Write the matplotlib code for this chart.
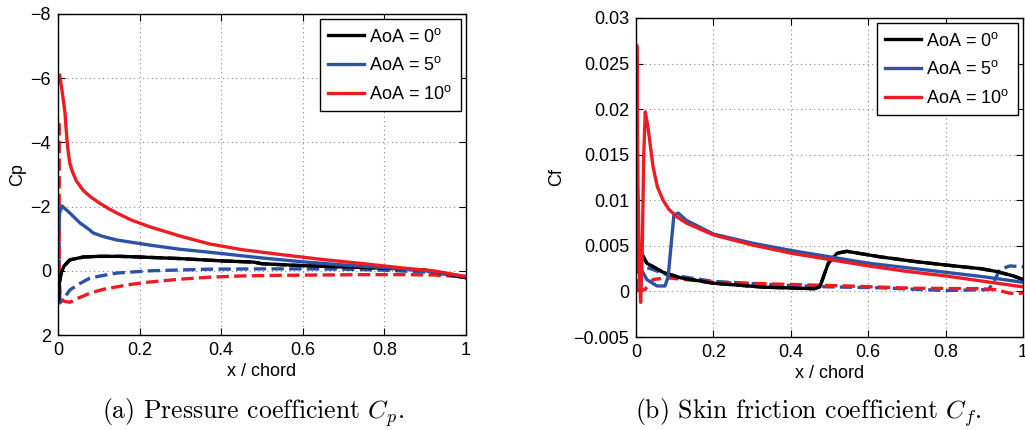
import matplotlib
matplotlib.use("Agg")
import matplotlib.pyplot as plt
from matplotlib.ticker import FuncFormatter

plt.rcParams['font.family'] = ['Liberation Sans', 'DejaVu Sans']
plt.rcParams['mathtext.fontset'] = 'custom'
plt.rcParams['mathtext.rm'] = 'Liberation Sans'
plt.rcParams['mathtext.it'] = 'Liberation Sans:italic'

# ---- pressure coefficient ----
cp10_up_x = [0.0, 0.004, 0.01, 0.017, 0.02, 0.024, 0.029, 0.035, 0.045, 0.062, 0.08, 0.103,
             0.125, 0.144, 0.18, 0.225, 0.3, 0.37, 0.45, 0.55, 0.65, 0.75, 0.85, 0.92, 1.0]
cp10_up = [-5.9, -6.1, -5.6, -4.95, -4.4, -3.8, -3.35, -3.1, -2.8, -2.5, -2.3, -2.1,
           -1.93, -1.8, -1.58, -1.37, -1.08, -0.84, -0.66, -0.5, -0.35, -0.22, -0.08, 0.0, 0.18]
cp10_lo_x = [0.003, 0.003, 0.006, 0.015, 0.029, 0.05, 0.078, 0.11, 0.144, 0.18, 0.225, 0.3,
             0.37, 0.45, 0.55, 0.65, 0.75, 0.85, 0.92, 1.0]
cp10_lo = [-4.6, 0.3, 0.85, 0.95, 0.98, 0.85, 0.7, 0.58, 0.5, 0.42, 0.35, 0.26,
           0.2, 0.16, 0.14, 0.13, 0.12, 0.12, 0.13, 0.19]

cp5_up_x = [0.0, 0.004, 0.0098, 0.029, 0.054, 0.078, 0.086, 0.11, 0.144, 0.225, 0.3, 0.37,
            0.5, 0.6, 0.7, 0.8, 0.9, 1.0]
cp5_up = [-0.8, -1.8, -2.02, -1.8, -1.49, -1.27, -1.18, -1.07, -0.96, -0.8, -0.67, -0.58,
          -0.4, -0.28, -0.18, -0.1, 0.0, 0.18]
cp5_lo_x = [0.003, 0.003, 0.005, 0.015, 0.029, 0.05, 0.078, 0.1, 0.144, 0.225, 0.37, 0.5,
            0.6, 0.7, 0.8, 0.9, 1.0]
cp5_lo = [-2.0, 0.4, 1.0, 0.85, 0.6, 0.42, 0.23, 0.17, 0.07, 0.0, -0.05, -0.06,
          -0.06, -0.05, -0.02, 0.04, 0.2]

cp0_x = [0.002, 0.003, 0.008, 0.015, 0.029, 0.062, 0.1, 0.15, 0.2, 0.3, 0.4, 0.48, 0.5,
         0.6, 0.7, 0.8, 0.9, 1.0]
cp0 = [0.9, 0.4, 0.05, -0.15, -0.34, -0.43, -0.45, -0.45, -0.43, -0.38, -0.31, -0.27, -0.22,
       -0.16, -0.12, -0.08, -0.02, 0.22]

# ---- skin friction coefficient ----
cf10_up_x = [0.0, 0.002, 0.005, 0.009, 0.012, 0.016, 0.02, 0.024, 0.031, 0.044, 0.055, 0.07,
             0.085, 0.105, 0.13, 0.173, 0.2, 0.3, 0.4, 0.5, 0.6, 0.7, 0.8, 0.9, 1.0]
cf10_up = [0.005, 0.027, 0.012, 0.002, -0.0012, 0.004, 0.015, 0.0197, 0.018, 0.0137, 0.0115, 0.0100,
           0.0090, 0.0082, 0.0075, 0.0067, 0.0062, 0.0051, 0.0042, 0.0035, 0.0028, 0.0022, 0.0017,
           0.0011, 0.0005]
cf10_lo_x = [0.002, 0.005, 0.023, 0.044, 0.08, 0.2, 0.37, 0.545, 0.717, 0.89, 0.93, 0.966, 1.0]
cf10_lo = [0.0, 0.0002, 0.0002, 0.0013, 0.0015, 0.001, 0.0008, 0.0006, 0.00035, 0.0003, 0.0002,
           -0.0002, -0.0002]

cf5_up_x = [0.002, 0.003, 0.01, 0.028, 0.054, 0.075, 0.083, 0.098, 0.109, 0.13, 0.2, 0.3, 0.4,
            0.5, 0.6, 0.7, 0.8, 0.9, 1.0]
cf5_up = [0.0089, 0.006, 0.0027, 0.0013, 0.0006, 0.0006, 0.0016, 0.0084, 0.0086, 0.0078,
          0.0063, 0.0053, 0.0045, 0.0038, 0.0031, 0.0026, 0.0021, 0.0016, 0.001]
cf5_lo_x = [0.002, 0.002, 0.005, 0.023, 0.044, 0.075, 0.2, 0.37, 0.5, 0.63, 0.8, 0.91, 0.923,
            0.94, 0.966, 1.0]
cf5_lo = [0.0, 0.0087, 0.003, 0.0027, 0.0024, 0.0019, 0.0011, 0.0007, 0.0005, 0.0004, 0.0001,
          0.0002, 0.0009, 0.0024, 0.0028, 0.0027]

cf0_x = [0.002, 0.01, 0.028, 0.07, 0.114, 0.2, 0.33, 0.46, 0.475, 0.497, 0.52, 0.545, 0.63,
         0.717, 0.8, 0.89, 0.93, 0.975, 1.0]
cf0 = [0.0062, 0.0045, 0.0031, 0.0021, 0.0015, 0.0009, 0.00047, 0.0003, 0.0005, 0.0031, 0.0042,
       0.0044, 0.0038, 0.0033, 0.0029, 0.0025, 0.0022, 0.0017, 0.0013]

labels = [r'AoA = 0$^{\mathrm{o}}$', r'AoA = 5$^{\mathrm{o}}$', r'AoA = 10$^{\mathrm{o}}$']
colors = ['black', '#2c52a6', '#ec1c24']

xticks = [0, 0.2, 0.4, 0.6, 0.8, 1.0]
cp_ticks = [-8, -6, -4, -2, 0, 2]
cf_ticks = [-0.005, 0, 0.005, 0.01, 0.015, 0.02, 0.025, 0.03]

LW = 2.4
FS = 13


def fmt(v, pos):
    s = '%g' % v
    return s.replace('-', '\u2212')


def style_axes(ax):
    ax.tick_params(direction='in', length=5, width=0.8, top=True, right=True,
                   labelsize=FS, pad=5)
    ax.grid(True, linestyle=(0, (1, 3)), color='#888888', linewidth=0.8)
    for s in ax.spines.values():
        s.set_linewidth(1.0)
    ax.xaxis.set_major_formatter(FuncFormatter(fmt))
    ax.yaxis.set_major_formatter(FuncFormatter(fmt))


def add_legend(ax, handles):
    leg = ax.legend(handles, labels, loc='upper right', fontsize=FS, fancybox=False,
                    edgecolor='black', framealpha=1, handlelength=2.0, handletextpad=0.3,
                    borderaxespad=0.3, labelspacing=0.6, borderpad=0.45)
    leg.get_frame().set_linewidth(1.0)


fig = plt.figure(figsize=(10.25, 4.3), dpi=100)
ax1 = fig.add_axes([58 / 1025, 95 / 430, 408 / 1025, 321 / 430])
ax2 = fig.add_axes([636 / 1025, 93 / 430, 387 / 1025, 319 / 430])

# Cp panel: dashed lower surfaces first, solid upper on top
ax1.plot(cp0_x, cp0, '--', color=colors[0], lw=LW)
ax1.plot(cp5_lo_x, cp5_lo, '--', color=colors[1], lw=LW)
ax1.plot(cp10_lo_x, cp10_lo, '--', color=colors[2], lw=LW)
l0, = ax1.plot(cp0_x, cp0, color=colors[0], lw=LW)
l1, = ax1.plot(cp5_up_x, cp5_up, color=colors[1], lw=LW)
l2, = ax1.plot(cp10_up_x, cp10_up, color=colors[2], lw=LW)
ax1.set_xlim(0, 1)
ax1.set_ylim(2, -8)
ax1.set_xticks(xticks)
ax1.set_yticks(cp_ticks)
style_axes(ax1)
ax1.set_xlabel('x / chord', fontsize=FS)
ax1.set_ylabel('Cp', fontsize=FS)
ax1.xaxis.set_label_coords(0.5, -0.087)
ax1.yaxis.set_label_coords(-0.078, 0.5)
add_legend(ax1, [l0, l1, l2])

# Cf panel
ax2.plot(cf0_x, cf0, '--', color=colors[0], lw=LW)
ax2.plot(cf5_lo_x, cf5_lo, '--', color=colors[1], lw=LW)
ax2.plot(cf10_lo_x, cf10_lo, '--', color=colors[2], lw=LW)
m0, = ax2.plot(cf0_x, cf0, color=colors[0], lw=LW)
m1, = ax2.plot(cf5_up_x, cf5_up, color=colors[1], lw=LW)
m2, = ax2.plot(cf10_up_x, cf10_up, color=colors[2], lw=LW)
ax2.set_xlim(0, 1)
ax2.set_ylim(-0.005, 0.03)
ax2.set_xticks(xticks)
ax2.set_yticks(cf_ticks)
style_axes(ax2)
ax2.set_xlabel('x / chord', fontsize=FS)
ax2.set_ylabel('Cf', fontsize=FS)
ax2.xaxis.set_label_coords(0.5, -0.088)
ax2.yaxis.set_label_coords(-0.183, 0.5)
add_legend(ax2, [m0, m1, m2])

# captions in a Computer Modern look
fig.text(0.247, 0.04, r'(a) Pressure coefficient $C_p$.', ha='center', va='center',
         fontsize=18.5, family='cmr10', math_fontfamily='cm')
fig.text(0.789, 0.04, r'(b) Skin friction coefficient $C_f$.', ha='center', va='center',
         fontsize=18.5, family='cmr10', math_fontfamily='cm')

fig.savefig('out.png', dpi=100)
